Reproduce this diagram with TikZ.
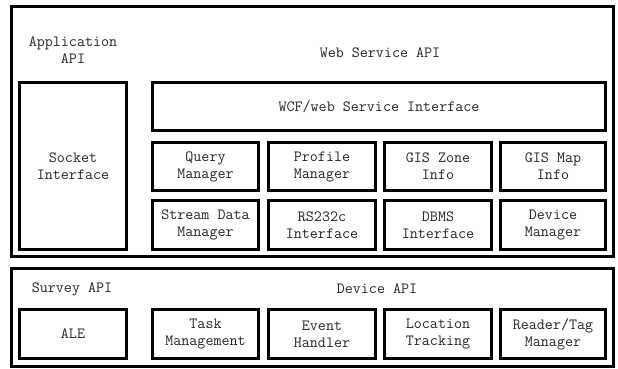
\documentclass[tikz,border=0pt]{standalone}
\usepackage{fontspec}
\begin{document}
\begin{tikzpicture}[x=1pt,y=-1pt,
  lbl/.style={font=\fontsize{15.6}{17}\selectfont\ttfamily, text=black!85, align=center, inner sep=0pt},
  boxstyle/.style={draw=black, line width=2.8pt, fill=white, inner sep=0pt, font=\fontsize{15.6}{17}\selectfont\ttfamily, text=black!85, align=center},
  framestyle/.style={draw=black, line width=2.8pt, fill=white, inner sep=0pt}]
\useasboundingbox[fill=white] (0,0) rectangle (618,369);
% box macro: name, x1, y1, x2, y2 (outer edges), style, text
\newcommand{\mybox}[7]{%
  \pgfmathsetmacro{\cx}{(#2+#4)/2}%
  \pgfmathsetmacro{\cy}{(#3+#5)/2}%
  \pgfmathsetmacro{\ww}{#4-#2-2.8}%
  \pgfmathsetmacro{\hh}{#5-#3-2.8}%
  \node[#6, minimum width=\ww pt, minimum height=\hh pt] (#1) at (\cx,\cy) {#7};}
% outer frames
\mybox{top}{10}{5}{615}{258}{framestyle}{}
\mybox{bottom}{10}{267}{615}{368}{framestyle}{}
% top labels
\node[lbl] (appapi) at (73,50) {Application\\API};
\node[lbl] (wsapi) at (380,53) {Web Service API};
% top area boxes
\mybox{socket}{18}{81}{128}{251}{boxstyle}{Socket\\Interface}
\mybox{wcf}{151}{81}{607}{132}{boxstyle}{WCF/web Service Interface}
\mybox{query}{151}{141}{260}{192}{boxstyle}{Query\\Manager}
\mybox{profile}{267}{141}{377}{192}{boxstyle}{Profile\\Manager}
\mybox{gzone}{383}{141}{493}{192}{boxstyle}{GIS Zone\\Info}
\mybox{gmap}{499}{141}{607}{192}{boxstyle}{GIS Map\\Info}
\mybox{stream}{151}{199}{260}{251}{boxstyle}{Stream Data\\Manager}
\mybox{rs}{267}{199}{377}{251}{boxstyle}{RS232c\\Interface}
\mybox{dbms}{383}{199}{493}{251}{boxstyle}{DBMS\\Interface}
\mybox{devmgr}{499}{199}{607}{251}{boxstyle}{Device\\Manager}
% bottom labels
\node[lbl] (survey) at (72,289) {Survey API};
\node[lbl] (devapi) at (377,289) {Device API};
% bottom boxes
\mybox{ale}{18}{308}{128}{360}{boxstyle}{ALE}
\mybox{task}{151}{308}{260}{360}{boxstyle}{Task\\Management}
\mybox{event}{267}{308}{377}{360}{boxstyle}{Event\\Handler}
\mybox{loc}{383}{308}{493}{360}{boxstyle}{Location\\Tracking}
\mybox{reader}{499}{308}{607}{360}{boxstyle}{Reader/Tag\\Manager}
\end{tikzpicture}
\end{document}
